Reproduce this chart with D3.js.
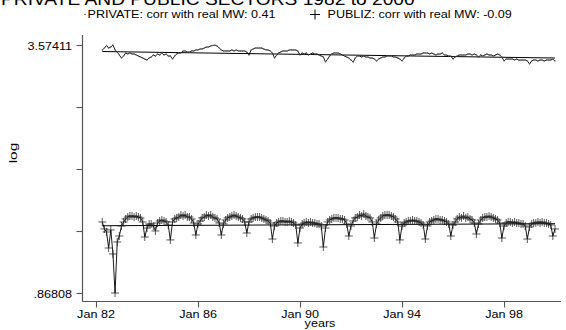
<!DOCTYPE html>
<html><head><meta charset="utf-8">
<script src="https://cdn.jsdelivr.net/npm/d3@7"></script>
<style>body{margin:0;background:#fff} svg{display:block} text{font-family:Arial,"Liberation Sans",Helvetica,sans-serif;fill:#000}</style>
</head><body><svg id="c" width="566" height="330"></svg>
<script>
const titleText = "PRIVATE AND PUBLIC SECTORS 1982 to 2000";
const legendLabels = ["PRIVATE: corr with real MW: 0.41", "PUBLIZ: corr with real MW: -0.09"];
const xAxisTitle = "years";
const yAxisTitle = "log";
const firstMonth = new Date(1982, 3, 1);

const privateLog = [
 3.520,3.541,3.569,3.541,3.552,3.57411,3.520,3.498,3.465,
 3.432,3.454,3.487,3.476,3.487,3.476,3.476,3.465,3.454,3.443,3.432,3.421,
 3.410,3.432,3.443,3.465,3.454,3.476,3.465,3.487,3.465,3.476,3.454,3.454,
 3.421,3.454,3.476,3.487,3.487,3.509,3.509,3.498,3.498,3.509,3.509,3.520,
 3.520,3.531,3.531,3.541,3.552,3.552,3.563,3.569,3.572,3.563,3.541,3.520,
 3.509,3.509,3.509,3.509,3.520,3.509,3.520,3.509,3.509,3.509,3.509,3.498,
 3.465,3.520,3.531,3.541,3.541,3.541,3.541,3.531,3.520,3.520,3.509,3.487,
 3.432,3.465,3.487,3.498,3.509,3.509,3.509,3.520,3.520,3.520,3.520,3.509,
 3.465,3.487,3.476,3.487,3.465,3.476,3.487,3.476,3.476,3.465,3.454,3.443,
 3.389,3.421,3.454,3.476,3.487,3.487,3.487,3.476,3.465,3.454,3.443,3.432,
 3.410,3.389,3.432,3.454,3.454,3.443,3.454,3.443,3.443,3.432,3.432,3.421,
 3.400,3.421,3.432,3.443,3.443,3.454,3.454,3.454,3.443,3.443,3.432,3.421,
 3.400,3.432,3.454,3.454,3.465,3.465,3.465,3.476,3.476,3.476,3.487,3.487,
 3.487,3.476,3.487,3.476,3.465,3.476,3.476,3.487,3.465,3.465,3.454,3.454,
 3.421,3.443,3.454,3.465,3.465,3.465,3.465,3.476,3.476,3.465,3.476,3.465,
 3.443,3.465,3.454,3.465,3.476,3.465,3.465,3.454,3.465,3.476,3.465,3.443,
 3.400,3.421,3.421,3.421,3.421,3.410,3.421,3.410,3.410,3.410,3.410,3.400,
 3.367,3.400,3.410,3.410,3.400,3.410,3.410,3.400,3.410,3.410,3.410,3.421,
 3.400
];

const publicLog = [
 1.643,1.567,1.534,1.359,1.556,1.294,0.86808,1.425,1.490,
 1.599,1.643,1.676,1.697,1.708,1.708,1.697,1.708,1.697,1.687,1.643,1.479,
 1.577,1.621,1.621,1.599,1.545,1.632,1.654,1.665,1.654,1.643,1.610,1.447,
 1.643,1.676,1.687,1.697,1.719,1.708,1.719,1.697,1.697,1.676,1.632,1.501,
 1.621,1.654,1.687,1.697,1.719,1.708,1.719,1.697,1.687,1.676,1.632,1.501,
 1.621,1.665,1.687,1.697,1.708,1.719,1.708,1.697,1.687,1.676,1.643,1.523,
 1.643,1.676,1.687,1.697,1.697,1.697,1.687,1.676,1.665,1.654,1.632,1.457,
 1.599,1.632,1.643,1.654,1.654,1.643,1.643,1.654,1.643,1.632,1.610,1.414,
 1.577,1.621,1.632,1.643,1.632,1.643,1.632,1.632,1.621,1.621,1.599,1.370,
 1.577,1.643,1.665,1.676,1.687,1.687,1.687,1.676,1.676,1.665,1.621,1.490,
 1.599,1.654,1.687,1.697,1.719,1.708,1.730,1.708,1.697,1.687,1.643,1.468,
 1.621,1.665,1.687,1.708,1.719,1.719,1.719,1.708,1.697,1.676,1.643,1.447,
 1.599,1.632,1.643,1.654,1.654,1.665,1.654,1.654,1.643,1.632,1.610,1.457,
 1.599,1.643,1.654,1.665,1.676,1.676,1.665,1.665,1.654,1.643,1.621,1.490,
 1.610,1.643,1.676,1.697,1.687,1.708,1.687,1.697,1.676,1.665,1.632,1.512,
 1.621,1.665,1.687,1.697,1.697,1.708,1.697,1.687,1.676,1.665,1.632,1.468,
 1.599,1.632,1.643,1.643,1.632,1.643,1.632,1.632,1.621,1.621,1.599,1.457,
 1.588,1.621,1.632,1.632,1.643,1.632,1.643,1.632,1.632,1.621,1.610,1.490,
 1.567
];

const privateFit = [3.503, 3.432];
const publicFit = [1.602, 1.624];

const xTickDates = ["1982-01","1986-01","1990-01","1994-01","1998-01"];
const xTickLabels = ["Jan 82","Jan 86","Jan 90","Jan 94","Jan 98"];
const yTickValues = [3.57411, 2.89760, 2.22110, 1.54459, 0.86808];
const yTickLabels = ["3.57411","","","",".86808"];

const svg = d3.select("#c");
const plot = {left: 82.5, right: 561, top: 35, bottom: 301.5};
const SX = 1.2;

const parseYM = d3.timeParse("%Y-%m");
const dates = d3.range(privateLog.length).map(i => d3.timeMonth.offset(firstMonth, i));
const x = d3.scaleTime().domain([parseYM("1982-01"), parseYM("2000-01")]).range([96, 555]);
const ext = d3.extent(privateLog.concat(publicLog));
const y = d3.scaleLinear().domain(ext).range([293, 45]);

function stext(px, py, str, anchor, size, rot, sx) {
  const s = sx || SX;
  const g = svg.append("g").attr("transform", `translate(${px},${py})` + (rot ? ` rotate(${rot})` : "") + ` scale(${s},1)`);
  g.append("text").attr("text-anchor", anchor).style("font-size", size + "px").text(str);
  return g;
}

// title (clipped at top, as in reference)
stext(1, 5, titleText, "start", 16);

// legend
svg.append("circle").attr("cx", 85).attr("cy", 14.5).attr("r", 0.8).attr("fill", "#555");
stext(87.5, 17.5, legendLabels[0], "start", 10.5);
svg.append("path").attr("d", "M310,14.5H320M315,9.5V19.5").attr("stroke", "#000").attr("stroke-width", 1).attr("fill", "none");
stext(327.5, 17.5, legendLabels[1], "start", 10.5);

// axes lines
const axisColor = "#555";
svg.append("line").attr("x1", plot.left).attr("x2", plot.left).attr("y1", plot.top).attr("y2", plot.bottom).attr("stroke", axisColor).attr("stroke-width", 1.2);
svg.append("line").attr("x1", plot.left).attr("x2", plot.right).attr("y1", plot.bottom).attr("y2", plot.bottom).attr("stroke", axisColor).attr("stroke-width", 1.2);

// y ticks
const yAx = svg.append("g").attr("transform", `translate(${plot.left},0)`)
  .call(d3.axisLeft(y).tickValues(yTickValues).tickSize(6).tickFormat(""));
yAx.select(".domain").remove();
yAx.selectAll("line").attr("stroke", axisColor).attr("stroke-width", 1.1);
yTickValues.forEach((v, i) => { if (yTickLabels[i]) stext(72, y(v) + 4.5, yTickLabels[i], "end", 10.5); });

// x ticks
const xDates = xTickDates.map(parseYM);
const xAx = svg.append("g").attr("transform", `translate(0,${plot.bottom})`)
  .call(d3.axisBottom(x).tickValues(xDates).tickSize(6).tickFormat(""));
xAx.select(".domain").remove();
xAx.selectAll("line").attr("stroke", axisColor).attr("stroke-width", 1.1);
xDates.forEach((d, i) => stext(x(d), 318, xTickLabels[i], "middle", 10.5));

// axis titles
stext(320, 327, xAxisTitle, "middle", 10.5);
stext(16.5, 153, yAxisTitle, "middle", 11.5, -90, 1.35);

// series
const line = d3.line().x(d => x(d[0])).y(d => y(d[1]));
const priv = dates.map((d, i) => [d, privateLog[i]]);
const pub = dates.map((d, i) => [d, publicLog[i]]);

// fitted lines
const ends = [dates[0], dates[dates.length - 1]];
svg.append("path").attr("d", line(ends.map((d, i) => [d, privateFit[i]]))).attr("stroke", "#000").attr("stroke-width", 1).attr("fill", "none");
svg.append("path").attr("d", line(ends.map((d, i) => [d, publicFit[i]]))).attr("stroke", "#000").attr("stroke-width", 1).attr("fill", "none");

svg.append("path").attr("d", line(priv)).attr("stroke", "#000").attr("stroke-width", 0.9).attr("fill", "none");
svg.selectAll(".pd").data(priv).join("circle").attr("class", "pd")
  .attr("cx", d => x(d[0])).attr("cy", d => y(d[1])).attr("r", 0.7).attr("fill", "#666");

svg.append("path").attr("d", line(pub)).attr("stroke", "#000").attr("stroke-width", 0.9).attr("fill", "none");
svg.selectAll(".pc").data(pub).join("path").attr("class", "pc")
  .attr("d", d => { const cx = x(d[0]), cy = y(d[1]); return `M${cx-4},${cy}H${cx+4}M${cx},${cy-4}V${cy+4}`; })
  .attr("stroke", "#222").attr("stroke-width", 0.75).attr("fill", "none");
</script></body></html>
